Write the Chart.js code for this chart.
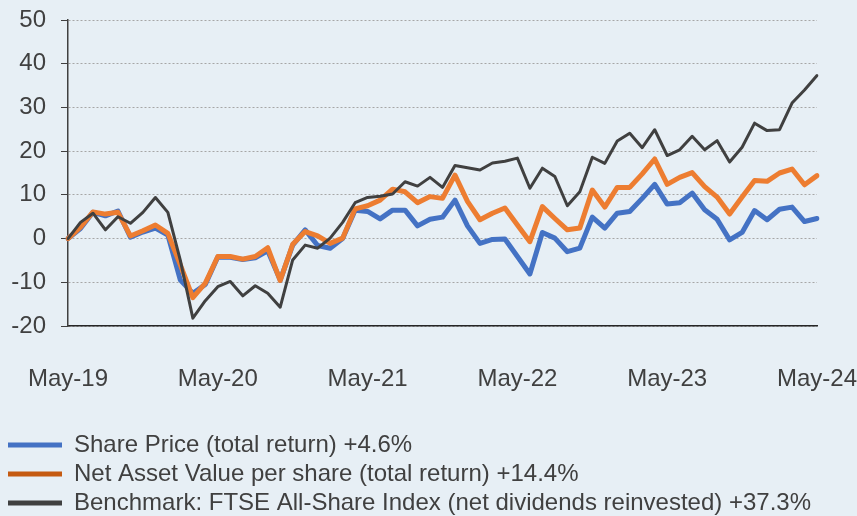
<!DOCTYPE html>
<html>
<head>
<meta charset="utf-8">
<script src="https://cdn.jsdelivr.net/npm/chart.js@4"></script>
<style>
  html, body { margin: 0; padding: 0; background: #e7eff5; overflow: hidden; }
  #wrap { width: 857px; height: 516px; position: relative; }
</style>
</head>
<body>
<div id="wrap"><canvas id="chart"></canvas></div>
<script>
const months = [
  "May-19", "Jun-19", "Jul-19", "Aug-19", "Sep-19", "Oct-19", "Nov-19", "Dec-19",
  "Jan-20", "Feb-20", "Mar-20", "Apr-20", "May-20", "Jun-20", "Jul-20", "Aug-20",
  "Sep-20", "Oct-20", "Nov-20", "Dec-20", "Jan-21", "Feb-21", "Mar-21", "Apr-21",
  "May-21", "Jun-21", "Jul-21", "Aug-21", "Sep-21", "Oct-21", "Nov-21", "Dec-21",
  "Jan-22", "Feb-22", "Mar-22", "Apr-22", "May-22", "Jun-22", "Jul-22", "Aug-22",
  "Sep-22", "Oct-22", "Nov-22", "Dec-22", "Jan-23", "Feb-23", "Mar-23", "Apr-23",
  "May-23", "Jun-23", "Jul-23", "Aug-23", "Sep-23", "Oct-23", "Nov-23", "Dec-23",
  "Jan-24", "Feb-24", "Mar-24", "Apr-24", "May-24",
];

const sharePrice = [
  0, 2.3, 6.0, 5.2, 6.3, 0.3, 1.5, 2.4, 0.8, -9.5, -12.5, -10.5, -4.2, -4.3, -4.8, -4.4,
  -2.8, -9.5, -1.5, 2.0, -1.6, -2.2, 0.0, 6.5, 6.2, 4.5, 6.5, 6.5, 2.9, 4.4, 4.9, 8.8,
  2.9, -1.1, -0.2, -0.1, -4.1, -8.1, 1.4, 0.1, -3.0, -2.2, 4.9, 2.4, 5.8, 6.2, 9.2, 12.4,
  7.9, 8.2, 10.4, 6.6, 4.4, -0.3, 1.4, 6.4, 4.3, 6.7, 7.2, 3.9, 4.6,
];

const nav = [
  0, 2.6, 6.1, 5.6, 6.0, 0.6, 1.8, 3.1, 1.2, -6.0, -13.5, -10.2, -4.1, -4.1, -4.7, -4.1,
  -2.1, -9.6, -1.3, 1.6, 0.6, -1.1, 0.1, 6.8, 7.5, 8.8, 11.3, 10.7, 8.2, 9.6, 9.2, 14.5,
  8.5, 4.3, 5.8, 7.0, 3.1, -0.7, 7.3, 4.6, 2.0, 2.4, 11.1, 7.2, 11.7, 11.7, 14.8, 18.2,
  12.4, 14.0, 15.1, 11.9, 9.5, 5.6, 9.5, 13.3, 13.1, 15.0, 15.9, 12.3, 14.4,
];

const benchmark = [
  0, 3.7, 5.8, 2.0, 5.0, 3.5, 6.0, 9.4, 6.0, -5.0, -18.2, -14.2, -11.0, -9.8, -13.1, -10.8,
  -12.5, -15.7, -4.9, -1.5, -2.2, 0.1, 3.7, 8.2, 9.4, 9.7, 10.2, 13.0, 12.0, 14.0, 11.7, 16.7,
  16.2, 15.7, 17.3, 17.7, 18.4, 11.5, 16.1, 14.2, 7.5, 10.7, 18.6, 17.2, 22.3, 24.1, 20.8, 24.9,
  19.0, 20.3, 23.4, 20.3, 22.4, 17.5, 20.9, 26.4, 24.7, 24.9, 31.0, 34.0, 37.3,
];

const seriesLabels = [
  "Share Price (total return) +4.6%",
  "Net Asset Value per share (total return) +14.4%",
  "Benchmark: FTSE All-Share Index (net dividends reinvested) +37.3%",
];

const lineColors = ["#4472c4", "#ed7d31", "#404040"];
const legendColors = ["#4472c4", "#c55a11", "#404040"];
const textColor = "#404040";
const font = { family: "Liberation Sans, Arial, sans-serif", size: 24 };

const data = {
  labels: months,
  datasets: [
    {
      label: seriesLabels[0],
      data: sharePrice,
      borderColor: lineColors[0],
      borderWidth: 5,
      order: 3,
    },
    {
      label: seriesLabels[1],
      data: nav,
      borderColor: lineColors[1],
      borderWidth: 5,
      order: 2,
    },
    {
      label: seriesLabels[2],
      data: benchmark,
      borderColor: lineColors[2],
      borderWidth: 3,
      order: 1,
    },
  ],
};

// pull the legend a bit lower and to the right
const legendFit = {
  id: "legendFit",
  afterInit(chart) {
    const originalFit = chart.legend.fit;
    chart.legend.fit = function fit() {
      originalFit.call(this);
      this.height -= 9;
    };
  },
  afterLayout(chart) {
    chart.legend.left += 3;
  },
};

const config = {
  type: "line",
  data: data,
  options: {
    animation: false,
    responsive: true,
    maintainAspectRatio: false,
    layout: {
      padding: 0,
    },
    elements: {
      point: { radius: 0 },
      line: { tension: 0, borderCapStyle: "round", borderJoinStyle: "round" },
    },
    scales: {
      x: {
        offset: false,
        afterFit: (scale) => {
          scale.height = 102;
          scale.paddingLeft = 0;
          scale.paddingRight = 40;
        },
        grid: { display: false, drawTicks: false },
        border: { color: "#262626", width: 1.5 },
        ticks: {
          color: textColor,
          font: font,
          autoSkip: false,
          maxRotation: 0,
          padding: 39,
          callback: (value, index) => (index % 12 === 0 ? months[index] : ""),
        },
      },
      y: {
        min: -20,
        max: 50,
        afterFit: (scale) => {
          scale.width = 68;
          scale.paddingTop = 20;
        },
        grid: {
          color: "#a6a6a6",
          tickColor: "#404040",
          tickLength: 7,
          tickBorderDash: [],
        },
        border: { color: "#404040", width: 1.5, dash: [2, 2] },
        ticks: {
          stepSize: 10,
          color: textColor,
          padding: 15,
          font: font,
        },
      },
    },
    plugins: {
      tooltip: { enabled: false },
      legend: {
        position: "bottom",
        align: "start",
        labels: {
          boxWidth: 54,
          boxHeight: 5,
          padding: 5,
          color: textColor,
          font: font,
          generateLabels: (chart) =>
            chart.data.datasets.map((ds, i) => ({
              text: ds.label,
              fillStyle: legendColors[i],
              strokeStyle: legendColors[i],
              lineWidth: 0,
              fontColor: textColor,
              hidden: false,
              datasetIndex: i,
            })),
        },
      },
    },
  },
  plugins: [legendFit],
};

const chart = new Chart(document.getElementById("chart"), config);
</script>
</body>
</html>
